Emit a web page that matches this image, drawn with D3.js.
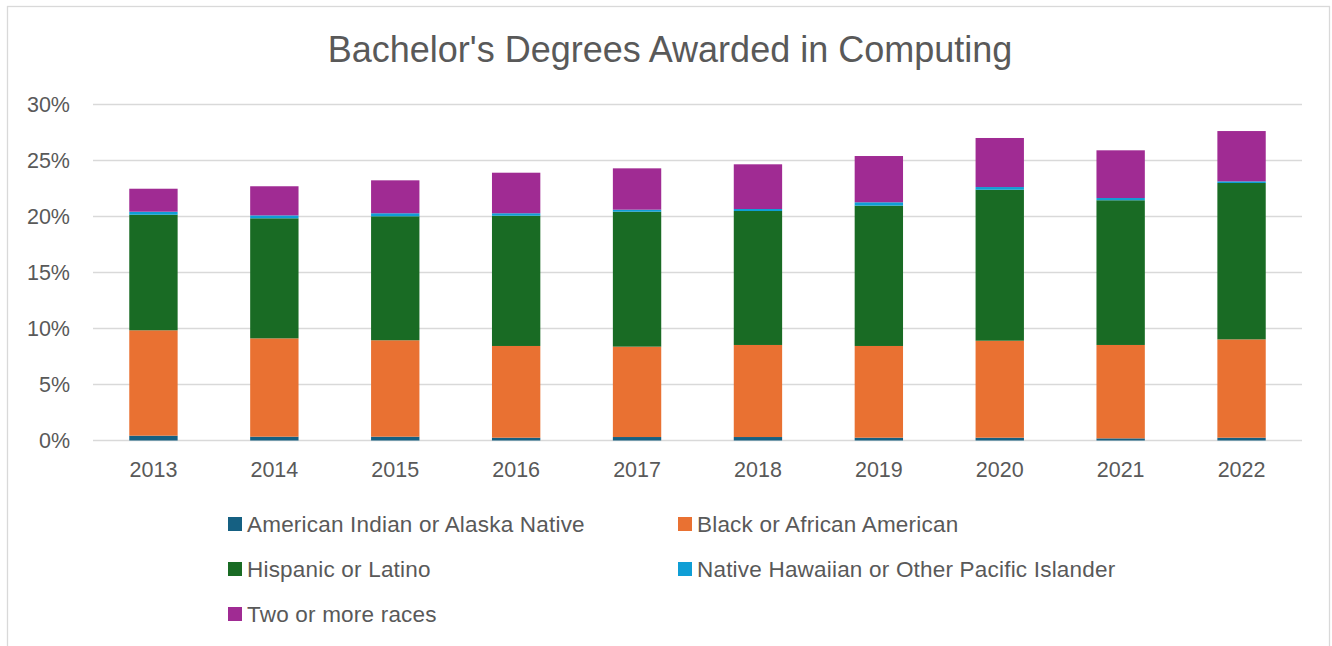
<!DOCTYPE html>
<html>
<head>
    <meta charset="utf-8">
    <title>Bachelor's Degrees Awarded in Computing</title>
    <script src="https://d3js.org/d3.v7.min.js"></script>
    <style>
        body {
            margin: 0;
            background: #fff;
            font-family: "Liberation Sans", Arial, sans-serif;
        }
        .grid line {
            stroke: #d9d9d9;
            stroke-width: 1.3px;
        }
        .label {
            fill: #595959;
        }
    </style>
</head>
<body>
    <svg id="chart" width="1332" height="646"></svg>

    <script>
        // values (percent of bachelor's degrees)
        const years = ['2013', '2014', '2015', '2016', '2017', '2018', '2019', '2020', '2021', '2022'];
        const seriesNames = [
            'American Indian or Alaska Native',
            'Black or African American',
            'Hispanic or Latino',
            'Native Hawaiian or Other Pacific Islander',
            'Two or more races'
        ];
        const americanIndian = [0.43, 0.34, 0.34, 0.25, 0.31, 0.31, 0.25, 0.25, 0.19, 0.25];
        const black = [9.41, 8.78, 8.61, 8.19, 8.07, 8.22, 8.19, 8.66, 8.34, 8.78];
        const hispanic = [10.32, 10.72, 11.07, 11.63, 12.05, 11.96, 12.53, 13.48, 12.92, 13.96];
        const nativeHawaiian = [0.27, 0.26, 0.27, 0.22, 0.18, 0.18, 0.30, 0.24, 0.20, 0.15];
        const twoOrMore = [2.05, 2.60, 2.94, 3.62, 3.69, 3.99, 4.13, 4.38, 4.26, 4.49];
        const yTicks = [0, 5, 10, 15, 20, 25, 30];
        const colors = ['#156082', '#e97132', '#196b24', '#0f9ed5', '#a02b93'];

        const allSeries = [americanIndian, black, hispanic, nativeHawaiian, twoOrMore];
        const rows = years.map((yr, i) => {
            const r = {year: yr};
            seriesNames.forEach((name, j) => r[name] = allSeries[j][i]);
            return r;
        });

        const svg = d3.select('#chart');
        const plot = {left: 93, right: 1302, top: 104.5, bottom: 440.5};

        // chart frame
        svg.append('rect')
            .attr('x', 7.5).attr('y', 6.5)
            .attr('width', 1322).attr('height', 660)
            .attr('fill', '#fff')
            .attr('stroke', '#d9d9d9')
            .attr('stroke-width', 1.3);

        svg.append('text')
            .attr('class', 'label')
            .attr('x', 670)
            .attr('y', 62)
            .attr('text-anchor', 'middle')
            .style('font-size', '36px')
            .text("Bachelor's Degrees Awarded in Computing");

        const x = d3.scaleBand()
            .domain(years)
            .range([plot.left, plot.right])
            .paddingInner(0.6)
            .paddingOuter(0.3);

        const y = d3.scaleLinear()
            .domain([0, 30])
            .range([plot.bottom, plot.top]);

        // gridlines
        svg.append('g')
            .attr('class', 'grid')
            .selectAll('line')
            .data(yTicks)
            .join('line')
            .attr('x1', plot.left)
            .attr('x2', plot.right)
            .attr('y1', d => y(d))
            .attr('y2', d => y(d));

        // y axis labels
        const yAxis = svg.append('g')
            .attr('transform', `translate(${plot.left},0)`)
            .call(d3.axisLeft(y).tickValues(yTicks).tickFormat(d => d + '%').tickSize(0).tickPadding(23));
        yAxis.select('.domain').remove();
        yAxis.selectAll('text')
            .attr('class', 'label')
            .attr('fill', null)
            .style('font-size', '21.5px')
            .style('font-family', '"Liberation Sans", Arial, sans-serif');

        // stacked bars
        const stack = d3.stack().keys(seriesNames);
        const layers = stack(rows);

        svg.append('g')
            .selectAll('g')
            .data(layers)
            .join('g')
            .attr('fill', (d, i) => colors[i])
            .selectAll('rect')
            .data(d => d)
            .join('rect')
            .attr('x', d => x(d.data.year))
            .attr('width', x.bandwidth())
            .attr('y', d => y(d[1]))
            .attr('height', d => y(d[0]) - y(d[1]));

        // x axis labels
        const xAxis = svg.append('g')
            .attr('transform', `translate(0,${plot.bottom})`)
            .call(d3.axisBottom(x).tickSize(0).tickPadding(21));
        xAxis.select('.domain').remove();
        xAxis.selectAll('text')
            .attr('class', 'label')
            .attr('fill', null)
            .style('font-size', '21.5px')
            .style('font-family', '"Liberation Sans", Arial, sans-serif');

        // legend
        const legendCols = [228, 678];
        const legendRows = [524, 569, 614];
        const legend = svg.append('g')
            .selectAll('g')
            .data(seriesNames)
            .join('g')
            .attr('transform', (d, i) => `translate(${legendCols[i % 2]},${legendRows[Math.floor(i / 2)]})`);
        legend.append('rect')
            .attr('x', 0)
            .attr('y', -7)
            .attr('width', 14)
            .attr('height', 14)
            .attr('fill', (d, i) => colors[i]);
        legend.append('text')
            .attr('class', 'label')
            .attr('x', 19)
            .attr('y', 8)
            .style('font-size', '22.5px')
            .style('letter-spacing', '0.2px')
            .text(d => d);
    </script>
</body>
</html>
